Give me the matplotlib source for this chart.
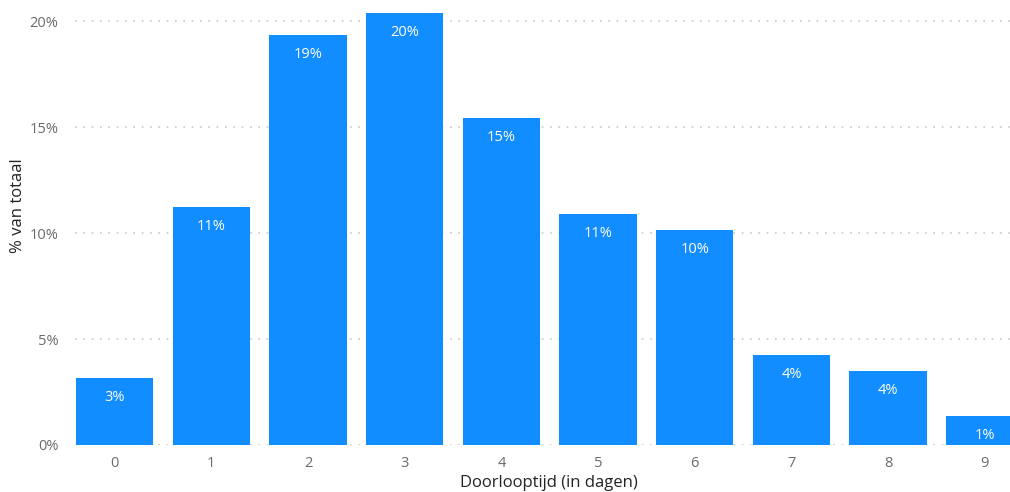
import numpy as np
import matplotlib
matplotlib.use("Agg")
import matplotlib.pyplot as plt
from matplotlib.ticker import FuncFormatter

#------------------------------------- data -------------------------------------#

dagen = [0, 1, 2, 3, 4, 5, 6, 7, 8, 9]
percentage = [3.15, 11.25, 19.35, 20.4, 15.45, 10.9, 10.15, 4.25, 3.5, 1.35]
yticks = [0, 5, 10, 15, 20]

plt.rcParams['font.family'] = ['Open Sans', 'DejaVu Sans']

#------------------------------------- figure -------------------------------------#

fig = plt.figure(figsize=(10.10, 4.92), dpi=100)
ax = fig.add_axes([75/1010, 47/492, 935/1010, 445/492])

ax.bar(dagen, percentage, width=0.8, color="#118DFF", zorder=2)

for x, p in zip(dagen, percentage):
    ax.annotate(f"{round(p):.0f}%", (x, p), xytext=(0, -14), textcoords="offset points",
                ha="center", va="center", color="white", fontsize=10.5)

ax.set_xlim(-0.41, 9.26)
ax.set_ylim(0, 21)
ax.set_yticks(yticks)
ax.yaxis.set_major_formatter(FuncFormatter(lambda v, pos: f"{v:.0f}%"))
ax.set_xticks(dagen)
ax.set_xticklabels([str(d) for d in dagen])

ax.grid(axis="y", linestyle=(0, (1, 4)), color="#c8c8c8", linewidth=1.2, zorder=0)
for s in ax.spines.values():
    s.set_visible(False)
ax.tick_params(axis="both", length=0, labelsize=10.5, labelcolor="#6b6a68")
ax.tick_params(axis="y", pad=12)
ax.tick_params(axis="x", pad=8)

fig.text(549/1010, 1 - 483/492, "Doorlooptijd (in dagen)", ha="center", va="center",
         fontsize=12, color="#252423")
fig.text(18/1010, 1 - 206/492, "% van totaal", ha="center", va="center",
         rotation=90, fontsize=12, color="#252423")

fig.savefig("out.png", dpi=100)
